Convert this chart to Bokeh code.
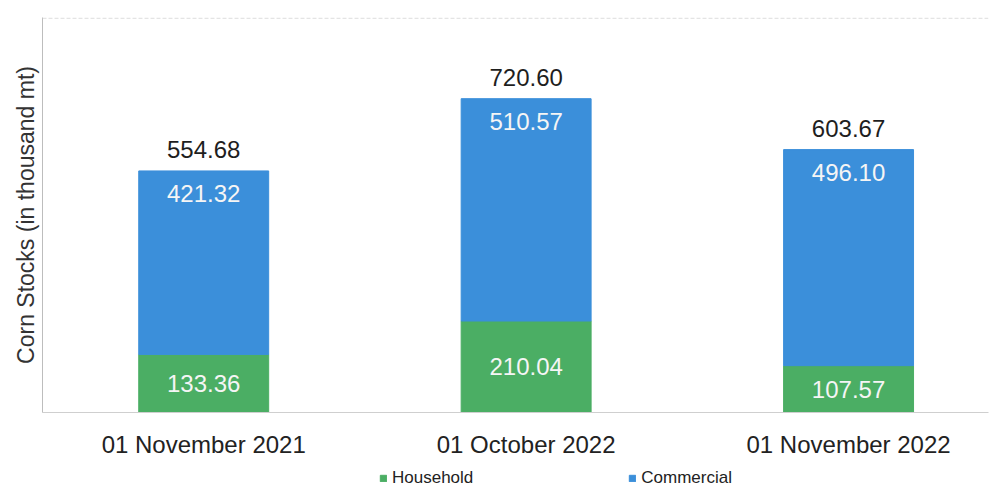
from bokeh.plotting import figure
from bokeh.layouts import column
from bokeh.models import ColumnDataSource, Range1d, FixedTicker, Span, Legend, LegendItem
from bokeh.core.properties import value
from bokeh.embed import file_html
from bokeh.resources import INLINE

# ---- data ----
categories = ["01 November 2021", "01 October 2022", "01 November 2022"]
household = [133.36, 210.04, 107.57]
commercial = [421.32, 510.57, 496.10]
totals = [554.68, 720.60, 603.67]
series = ["Household", "Commercial"]

FONT = "Liberation Sans"
GREEN = "#4bae64"
BLUE = "#3b8fda"

x = list(range(len(categories)))
top = [h + c for h, c in zip(household, commercial)]
src = ColumnDataSource(dict(
    x=x,
    household=household,
    top=top,
    h_mid=[h / 2 for h in household],
    h_lbl=[f"{v:.2f}" for v in household],
    c_lbl=[f"{v:.2f}" for v in commercial],
    t_lbl=[f"{v:.2f}" for v in totals],
))

p = figure(width=992, height=460, output_backend="svg", toolbar_location=None,
           x_range=Range1d(-0.5, 2.434), y_range=Range1d(0, 907),
           min_border_left=42, min_border_right=4, min_border_top=17, min_border_bottom=48)
p.outline_line_color = None
p.grid.grid_line_color = None
p.background_fill_color = "white"

p.vbar(x="x", bottom=0, top="household", width=0.403, color=GREEN, source=src)
p.vbar(x="x", bottom="household", top="top", width=0.403, color=BLUE, source=src)

# labels
p.text(x="x", y="h_mid", text="h_lbl", text_align="center", text_baseline="middle",
       text_color="#f5f5f5", text_font=value(FONT), text_font_size="24px", source=src)
p.text(x="x", y="top", text="c_lbl", text_align="center", text_baseline="middle", y_offset=23,
       text_color="#f5f5f5", text_font=value(FONT), text_font_size="24px", source=src)
p.text(x="x", y="top", text="t_lbl", text_align="center", text_baseline="middle", y_offset=-21,
       text_color="#1e1e1e", text_font=value(FONT), text_font_size="24px", source=src)

# x axis
xa = p.xaxis[0]
xa.ticker = FixedTicker(ticks=x)
xa.major_label_overrides = {i: c for i, c in zip(x, categories)}
xa.major_label_text_font = FONT
xa.major_label_text_font_size = "24px"
xa.major_label_text_color = "#222222"
xa.major_tick_line_color = None
xa.minor_tick_line_color = None
xa.major_label_standoff = 12
xa.axis_line_color = "#cfcfcf"

# y axis
ya = p.yaxis[0]
ya.ticker = FixedTicker(ticks=[])
ya.major_label_text_font_size = "0px"
ya.major_tick_line_color = None
ya.minor_tick_line_color = None
ya.major_label_standoff = 0
ya.axis_line_color = "#bdbdbd"
ya.axis_label = "Corn Stocks (in thousand mt)"
ya.axis_label_text_font = FONT
ya.axis_label_text_font_size = "23px"
ya.axis_label_text_font_style = "normal"
ya.axis_label_text_color = "#333333"
ya.axis_label_standoff = 4

p.add_layout(Span(location=905.5, dimension="width", line_color="#d6d6d6", line_width=1,
                  line_dash="4 2"))

# ---- legend strip (proxy glyphs kept outside the visible range) ----
p2 = figure(width=992, height=28, output_backend="svg", toolbar_location=None,
            x_range=Range1d(10, 11), y_range=Range1d(10, 11), min_border=0)
p2.axis.visible = False
p2.grid.grid_line_color = None
p2.outline_line_color = None
rg = p2.vbar(x=[0], top=[1], width=0.1, color=GREEN)
rb = p2.vbar(x=[0], top=[1], width=0.1, color=BLUE)
legend = Legend(items=[LegendItem(label=series[0], renderers=[rg]),
                       LegendItem(label=series[1], renderers=[rb])],
                orientation="horizontal", location=(337, 0),
                glyph_width=8, glyph_height=8, label_standoff=5, spacing=155,
                padding=0, margin=0, label_height=16,
                label_text_font=FONT, label_text_font_size="17px", label_text_color="#222222",
                border_line_color=None, background_fill_alpha=0)
p2.add_layout(legend)

layout = column(p, p2, spacing=0)
open("out.html", "w").write(file_html(layout, INLINE))
